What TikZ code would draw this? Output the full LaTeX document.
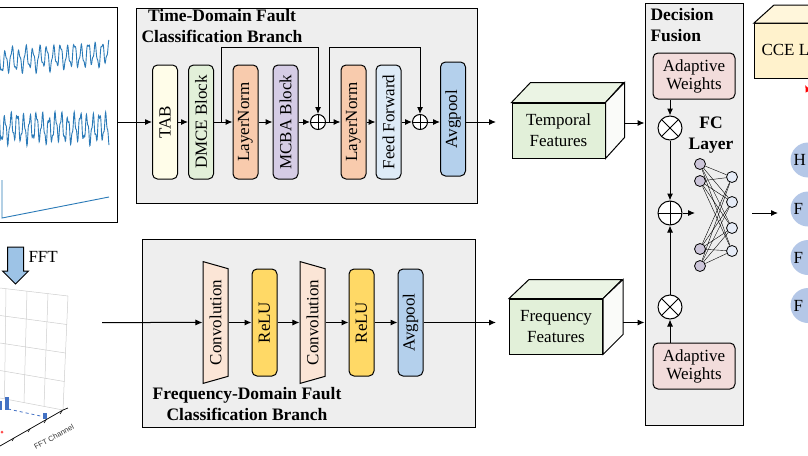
\documentclass[tikz,border=0pt]{standalone}
\usepackage{fontspec}
\setmainfont{Liberation Serif}
\newfontfamily\plotfont{Liberation Sans}
\usetikzlibrary{arrows.meta,shapes.geometric,shapes.arrows,calc}

\definecolor{panelc}{HTML}{EEEEEE}
\definecolor{tabc}{HTML}{FFFDE9}
\definecolor{dmcec}{HTML}{E2F0D9}
\definecolor{lnc}{HTML}{F8CBAD}
\definecolor{mcbac}{HTML}{D5CCE5}
\definecolor{ffc}{HTML}{DEEBF7}
\definecolor{poolc}{HTML}{B4D0EC}
\definecolor{convc}{HTML}{FBE5D6}
\definecolor{reluc}{HTML}{FFD966}
\definecolor{featc}{HTML}{E2F0D9}
\definecolor{weightc}{HTML}{F2DCDB}
\definecolor{fcinc}{HTML}{CCC5D9}
\definecolor{fcoutc}{HTML}{E6ECF7}
\definecolor{outc}{HTML}{B4C7E7}
\definecolor{ccec}{HTML}{FFF2CC}
\definecolor{sigc}{HTML}{2A7AB8}
\definecolor{fftc}{HTML}{9DC3E6}
\definecolor{barc}{HTML}{4472C4}

\begin{document}
\begin{tikzpicture}[x=1pt, y=-1pt, line width=1pt, font=\fontsize{17}{21}\selectfont,
  arr/.style={-{Latex[length=7pt,width=6pt]}},
  panel/.style={draw, fill=panelc, inner sep=0pt},
  blk/.style={draw, rounded corners=5pt, rotate=90, minimum width=114pt, minimum height=25pt, inner sep=0pt},
  conv/.style={trapezium, draw, fill=convc, shape border rotate=180, rotate=90, trapezium left angle=65, trapezium right angle=65, trapezium stretches=true, minimum width=123pt, minimum height=25pt, inner sep=0pt},
  relu/.style={blk, fill=reluc, minimum width=107pt},
  sumnode/.style={circle, draw, fill=white, minimum size=15pt, inner sep=0pt, path picture={\draw (path picture bounding box.north) -- (path picture bounding box.south) (path picture bounding box.west) -- (path picture bounding box.east);}},
  prodnode/.style={circle, draw, fill=white, minimum size=24pt, inner sep=0pt, path picture={\draw (path picture bounding box.north west) -- (path picture bounding box.south east) (path picture bounding box.north east) -- (path picture bounding box.south west);}},
  featbox/.style={draw, fill=featc, minimum width=93pt, minimum height=55pt, align=center, inner sep=0pt},
  weightbox/.style={draw, fill=weightc, rounded corners=5pt, minimum width=82pt, minimum height=46pt, align=center, font=\fontsize{17}{18}\selectfont},
  fcin/.style={circle, draw, fill=fcinc, minimum size=11pt, inner sep=0pt, line width=0.8pt},
  fcout/.style={circle, draw, fill=fcoutc, minimum size=11pt, inner sep=0pt, line width=0.8pt},
  outnode/.style={circle, fill=outc, minimum size=35pt, inner sep=0pt},
  title/.style={font=\bfseries\fontsize{17.5}{21}\selectfont, inner sep=0pt},
  sig/.style={draw=sigc, line width=0.9pt},
  grid3d/.style={draw=gray!40, line width=0.5pt}]
\useasboundingbox (0,0) rectangle (808,455);

% panels
\node[panel, minimum width=341pt, minimum height=195pt] (tbranch) at (306.5,105.5){};
\node[panel, minimum width=333pt, minimum height=188pt] (fbranch) at (308.5,333){};
\node[panel, minimum width=98pt, minimum height=422pt] (fusion) at (694,214){};

% input signals
\node[draw, fill=white, minimum width=122pt, minimum height=215pt, inner sep=0pt] (signals) at (56,114.5){};
\draw[sig] plot[domain=-2:109, samples=400, smooth] (\x, {61 - 0.07*\x + 10*sin(52*\x) + 3*sin(131*\x+40) + 2*sin(23*\x)});
\draw[sig] plot[domain=-2:109, samples=400, smooth] (\x, {128 + 12*sin(57*\x) + 4*sin(149*\x+20) + 2*sin(17*\x)});
\draw[sig] (2,180) -- (2,218) -- (109,197);

% FFT spectrum
\node[single arrow, draw, fill=fftc, shape border rotate=270, minimum height=37pt, minimum width=25pt, single arrow head extend=5pt, inner sep=7.5pt] (fftarrow) at (15.5,261.5){};
\node[anchor=base west, inner sep=0pt] (fftlabel) at (28,262){FFT};
\draw[grid3d] (0,288) -- (68,296);
\draw[grid3d] (0,315.5) -- (66.8,324.5);
\draw[grid3d] (0,343) -- (65.5,353);
\draw[grid3d] (0,370.5) -- (64.3,381.5);
\draw[grid3d] (0,398) -- (63,410);
\draw[grid3d] (6,288.7) -- (4.5,398.9);
\draw[grid3d] (27,291.2) -- (24,402.6);
\draw[grid3d] (48,293.6) -- (44,406.4);
\draw[grid3d] (68,296) -- (63,410);
\draw[line width=0.7pt] (0,446) -- (63,410) -- (68,408);
\draw[line width=0.6pt] (14,438) -- (12,441);
\draw[line width=0.6pt] (30,429) -- (28,432);
\draw[line width=0.6pt] (46,420) -- (44,423);
\draw[line width=0.6pt] (62,411) -- (60,414);
\draw[barc, dashed, line width=0.8pt] (8,409) -- (45,417);
\fill[barc] (5,397) rectangle (9,410);
\fill[barc] (0,401) rectangle (2,410);
\fill[barc] (43,413) rectangle (47,419);
\fill[red!70] (2,432) circle (1.5pt);
\node[font=\plotfont\fontsize{7.5}{8}\selectfont, text=gray!40!black, rotate=28, inner sep=0pt] (fftaxis) at (54,437){FFT Channel};

% time-domain branch
\node[title, anchor=north, align=center] (ttitle) at (222,9){Time-Domain Fault\\Classification Branch};
\node[blk, fill=tabc] (tab) at (165,122){TAB};
\node[blk, fill=dmcec] (dmce) at (201,122){DMCE Block};
\node[blk, fill=lnc] (ln1) at (245.5,122){LayerNorm};
\node[blk, fill=mcbac] (mcba) at (285.5,122){MCBA Block};
\node[sumnode] (add1) at (318,122){};
\node[blk, fill=lnc] (ln2) at (353.5,122){LayerNorm};
\node[blk, fill=ffc] (ffwd) at (388.5,122){Feed Forward};
\node[sumnode] (add2) at (420,122){};
\node[blk, fill=poolc] (tpool) at (453,119){Avgpool};
\coordinate (skip1) at (221,122);
\coordinate (skip2) at (329,122);
\coordinate (tout) at (496,122);
\draw[arr](signals.east |- tab) -- (tab);
\draw[arr](tab) -- (dmce);
\draw[arr](dmce) -- (ln1);
\draw[arr](ln1) -- (mcba);
\draw[arr](mcba) -- (add1);
\draw[arr](add1) -- (ln2);
\draw[arr](ln2) -- (ffwd);
\draw[arr](ffwd) -- (add2);
\draw[arr](add2) -- (tpool.north |- add2);
\draw[arr](tpool.south |- tout) -- (tout);
\draw[arr](skip1) -- ++(0,-75) -| (add1);
\draw[arr](skip2) -- ++(0,-75) -| (add2);

% frequency-domain branch
\node[title, anchor=north, align=center] (ftitle) at (247,387){Frequency-Domain Fault\\Classification Branch};
\node[conv] (conv1) at (215.5,322.5){Convolution};
\node[relu] (relu1) at (264.5,322.5){ReLU};
\node[conv] (conv2) at (312.5,322.5){Convolution};
\node[relu] (relu2) at (361.5,322.5){ReLU};
\node[blk, fill=poolc, minimum width=107pt] (fpool) at (410.5,322.5){Avgpool};
\coordinate (fin) at (102,322.5);
\coordinate (fout) at (496,322.5);
\draw[arr](fin) -- (conv1);
\draw[arr](conv1) -- (relu1);
\draw[arr](relu1) -- (conv2);
\draw[arr](conv2) -- (relu2);
\draw[arr](relu2) -- (fpool);
\draw[arr](fpool) -- (fout);

% feature cubes
\node[featbox] (tfeat) at (558.5,130.5){Temporal\\Features};
\filldraw[fill=featc!70!white] (tfeat.north west) -- ++(19,-20) -- ++(93,0) -- (tfeat.north east) -- cycle;
\filldraw[fill=featc!85!black!8] (tfeat.north east) -- ++(19,-20) -- ++(0,55) -- (tfeat.south east) -- cycle;
\node[featbox] (ffeat) at (556,326.5){Frequency\\Features};
\filldraw[fill=featc!70!white] (ffeat.north west) -- ++(20,-19) -- ++(93,0) -- (ffeat.north east) -- cycle;
\filldraw[fill=featc!85!black!8] (ffeat.north east) -- ++(20,-19) -- ++(0,55) -- (ffeat.south east) -- cycle;
\coordinate (tside) at ($(tfeat.east)+(19,-7.5)$);
\coordinate (fside) at ($(ffeat.east)+(20,-4)$);
\draw[arr](tside) -- (tside -| fusion.west);
\draw[arr](fside) -- (fside -| fusion.west);

% decision fusion
\node[title, anchor=north west, align=left] (dtitle) at (650,8){Decision\\Fusion};
\node[weightbox] (tweight) at (694,76){Adaptive\\Weights};
\node[prodnode] (tmul) at (670,128){};
\node[sumnode, minimum size=24pt] (fuse) at (670,213){};
\node[prodnode] (fmul) at (670,307){};
\node[weightbox] (fweight) at (694,366){Adaptive\\Weights};
\draw[arr](tmul |- tweight.south) -- (tmul);
\draw[arr](tmul) -- (fuse);
\draw[arr](fmul |- fweight.north) -- (fmul);
\draw[arr](fmul) -- (fuse);
\coordinate (fcin) at (695,213);
\draw[arr](fuse) -- (fcin);
\node[title, anchor=north, align=center] (fctitle) at (711,116){FC\\Layer};

% FC layer
\node[fcin] (l1) at (700,164){};
\node[fcin] (l2) at (700,181){};
\node[fcin] (l3) at (700,249){};
\node[fcin] (l4) at (700,266){};
\node[fcout] (r1) at (732,177){};
\node[fcout] (r2) at (732,202){};
\node[fcout] (r3) at (732,228){};
\node[fcout] (r4) at (732,251){};
\draw[line width=0.4pt](l1) -- (r1);
\draw[line width=0.4pt](l1) -- (r2);
\draw[line width=0.4pt](l1) -- (r3);
\draw[line width=0.4pt](l1) -- (r4);
\draw[line width=0.4pt](l2) -- (r1);
\draw[line width=0.4pt](l2) -- (r2);
\draw[line width=0.4pt](l2) -- (r3);
\draw[line width=0.4pt](l2) -- (r4);
\draw[line width=0.4pt](l3) -- (r1);
\draw[line width=0.4pt](l3) -- (r2);
\draw[line width=0.4pt](l3) -- (r3);
\draw[line width=0.4pt](l3) -- (r4);
\draw[line width=0.4pt](l4) -- (r1);
\draw[line width=0.4pt](l4) -- (r2);
\draw[line width=0.4pt](l4) -- (r3);
\draw[line width=0.4pt](l4) -- (r4);

% outputs and loss
\coordinate (fcout) at (752,213);
\coordinate (clsin) at (778,213);
\draw[arr](fcout) -- (clsin);
\node[outnode] (o1) at (808,160){};
\node[outnode] (o2) at (808,209){};
\node[outnode] (o3) at (808,257.5){};
\node[outnode] (o4) at (808,305.5){};
\node[anchor=west, inner sep=3pt] (o1t) at (o1.west){H};
\node[anchor=west, inner sep=3pt] (o2t) at (o2.west){F};
\node[anchor=west, inner sep=3pt] (o3t) at (o3.west){F};
\node[anchor=west, inner sep=3pt] (o4t) at (o4.west){F};
\node[draw, fill=ccec, minimum width=80pt, minimum height=55pt, anchor=north west, inner sep=0pt] (cce) at (754,23){};
\filldraw[fill=ccec!70!white] (cce.north west) -- ++(20,-18) -- ++(80,0) -- (cce.north east) -- cycle;
\node[anchor=west, inner sep=0pt] (ccetext) at (761,50){CCE L};
\coordinate (lossfrom) at (815,104);
\coordinate (lossto) at (805,85);
\draw[arr, red](lossfrom) -- (lossto);
\end{tikzpicture}
\end{document}
